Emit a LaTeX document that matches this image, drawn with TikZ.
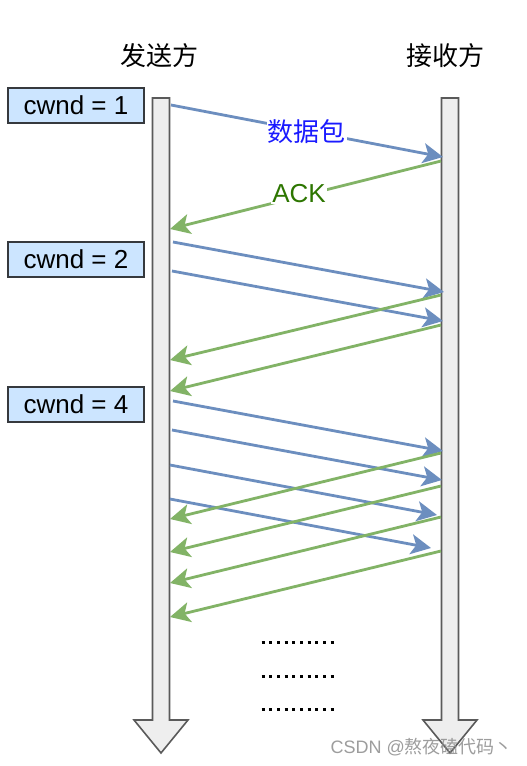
\documentclass[tikz,border=0pt]{standalone}
\usepackage{fontspec}
\setmainfont{Liberation Sans}
\newfontfamily\cjk{Noto Sans CJK SC}
\usetikzlibrary{arrows.meta}
\definecolor{pktblue}{HTML}{6C8EBF}
\definecolor{ackgreen}{HTML}{82B366}
\definecolor{boxfill}{HTML}{CCE5FF}
\definecolor{boxline}{HTML}{36393D}
\definecolor{lifefill}{HTML}{EEEEEE}
\definecolor{lifeedge}{HTML}{5A5A5A}
\definecolor{lblblue}{HTML}{1A1AFF}
\definecolor{lblgreen}{HTML}{2D7600}
\tikzset{
  big/.style={font=\fontsize{26}{30}\selectfont},
  cwndbox/.style={draw=boxline, fill=boxfill, line width=1.3pt, minimum width=136pt, minimum height=35pt, inner sep=0pt, big},
  lifebody/.style={draw=lifeedge, fill=lifefill, line width=1.6pt, line join=miter},
  tipstyle/.style={-{Stealth[length=20pt,width=20pt,inset=5pt]}},
  pkt/.style={draw=pktblue, line width=2.8pt, tipstyle},
  ack/.style={draw=ackgreen, line width=2.8pt, tipstyle},
  lbl/.style={fill=white, inner sep=1pt, big},
  head/.style={big, inner sep=0pt},
  dotrow/.style={line width=3pt, dash pattern=on 3pt off 4.67pt}
}
\begin{document}
\begin{tikzpicture}[x=1pt,y=-1pt]
\useasboundingbox[fill=white] (0,0) rectangle (527,766);
% headings
\node[head] (hs) at (159,56) {\cjk 发送方};
\node[head] (hr) at (445,56) {\cjk 接收方};
% lifelines
\path[lifebody] (152.5,98) -- (169.5,98) -- (169.5,720) -- (188,720) -- (161,753) -- (134,720) -- (152.5,720) -- cycle;
\path[lifebody] (441.5,98) -- (458.5,98) -- (458.5,720) -- (477,720) -- (450,753) -- (423,720) -- (441.5,720) -- cycle;
% cwnd boxes
\node[cwndbox] (c1) at (76,105.5) {cwnd = 1};
\node[cwndbox] (c2) at (76,259.5) {cwnd = 2};
\node[cwndbox] (c4) at (76,404.5) {cwnd = 4};
% endpoints on sender (s) and receiver (r)
\coordinate (s1) at (171,105);   \coordinate (r1) at (443,157);
\coordinate (r1a) at (441,161);  \coordinate (s1a) at (170,229);
\coordinate (s2) at (173,242);   \coordinate (r2) at (444,292);
\coordinate (s3) at (172,271);   \coordinate (r3) at (443,321);
\coordinate (r2a) at (441,295);  \coordinate (s2a) at (170,360);
\coordinate (r3a) at (441,325);  \coordinate (s3a) at (170,391);
\coordinate (s4) at (173,401);   \coordinate (r4) at (443,451);
\coordinate (s5) at (172,430);   \coordinate (r5) at (442,480);
\coordinate (s6) at (170,465);   \coordinate (r6) at (437,515);
\coordinate (s7) at (170,499);   \coordinate (r7) at (431,548);
\coordinate (r4a) at (441,453);  \coordinate (s4a) at (170,519);
\coordinate (r5a) at (441,486);  \coordinate (s5a) at (170,552);
\coordinate (r6a) at (441,517);  \coordinate (s6a) at (170,583);
\coordinate (r7a) at (441,551);  \coordinate (s7a) at (170,617);
% round 1
\draw[pkt] (s1) -- (r1);
\draw[ack] (r1a) -- (s1a);
\node[lbl, text=lblblue] (ldata) at (306.5,132) {\cjk 数据包};
\node[lbl, text=lblgreen] (lack) at (299,194) {ACK};
% round 2
\draw[pkt] (s2) -- (r2);
\draw[pkt] (s3) -- (r3);
\draw[ack] (r2a) -- (s2a);
\draw[ack] (r3a) -- (s3a);
% round 3
\draw[pkt] (s4) -- (r4);
\draw[pkt] (s5) -- (r5);
\draw[pkt] (s6) -- (r6);
\draw[pkt] (s7) -- (r7);
\draw[ack] (r4a) -- (s4a);
\draw[ack] (r5a) -- (s5a);
\draw[ack] (r6a) -- (s6a);
\draw[ack] (r7a) -- (s7a);
% continuation dots
\draw[dotrow] (261.7,642) -- (334,642);
\draw[dotrow] (261.7,676) -- (334,676);
\draw[dotrow] (261.7,709) -- (334,709);
% watermark
\node[anchor=east, inner sep=0pt, text=black!45, opacity=0.85, font=\fontsize{18}{20}\selectfont] (wm) at (513,747) {CSDN @\cjk 熬夜磕代码丶};
\end{tikzpicture}
\end{document}
